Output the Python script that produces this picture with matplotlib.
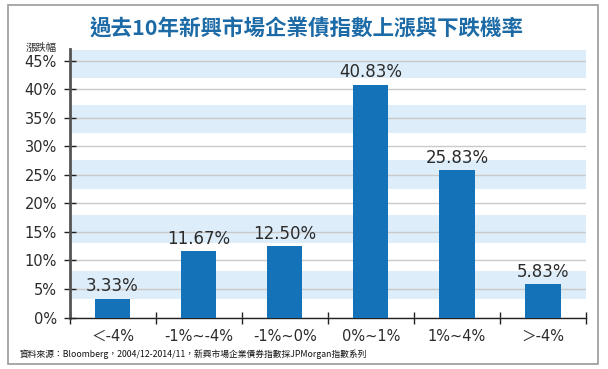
import matplotlib
matplotlib.use("Agg")
import matplotlib.pyplot as plt
from matplotlib.patches import Rectangle

plt.rcParams['font.family'] = ['Noto Sans CJK TC', 'DejaVu Sans']

# data
categories = ['＜-4%', '-1%~-4%', '-1%~0%', '0%~1%', '1%~4%', '＞-4%']
values = [3.33, 11.67, 12.50, 40.83, 25.83, 5.83]
y_ticks = [0, 5, 10, 15, 20, 25, 30, 35, 40, 45]

title = '過去10年新興市場企業債指數上漲與下跌機率'
y_title = '漲跌幅'
source = '資料來源：Bloomberg，2004/12-2014/11，新興市場企業債券指數採JPMorgan指數系列'

bar_color = '#1372b8'
band_color = '#ddedf9'
text_color = '#2b2b2b'
num_font = ['DejaVu Sans', 'Noto Sans CJK TC']

# background stripes (bottom, top) in axis units, as drawn in the original
bands = [(3.2, 8.2), (13.0, 18.0), (22.6, 27.6), (32.4, 37.3), (42.1, 46.9)]

fig = plt.figure(figsize=(6.08, 3.69), dpi=100)
fig.patch.set_facecolor('white')

# outer frame
fig.patches.append(Rectangle((8 / 608, 5 / 369), 590 / 608, 359 / 369,
                             transform=fig.transFigure, fill=False,
                             edgecolor='#9a9a9a', linewidth=1.2))

ax = fig.add_axes([69.5 / 608, 1 - 317.5 / 369, 516.5 / 608, 268.5 / 369])

for lo, hi in bands:
    ax.axhspan(lo, hi, color=band_color, lw=0, zorder=0)

x = list(range(len(categories)))
ax.bar(x, values, width=0.41, color=bar_color, zorder=3)

for xi, v in zip(x, values):
    ax.text(xi, v + 0.6, '%.2f%%' % v, ha='center', va='bottom',
            fontsize=12, color=text_color, family=num_font)

ax.set_xlim(-0.5, len(categories) - 0.5)
ax.set_ylim(0, 47.1)
ax.set_yticks(y_ticks)
ax.set_yticklabels(['%d%%' % t for t in y_ticks], family=num_font,
                   fontsize=10.5, color=text_color)

ax.set_xticks([i + 0.5 for i in range(-1, len(categories))], minor=False)
ax.set_xticklabels([])
ax.set_xticks(x, minor=True)
ax.set_xticklabels(categories, minor=True, fontsize=10.5, color=text_color,
                   family=num_font)
ax.tick_params(axis='x', which='minor', length=0, pad=8)
ax.tick_params(axis='x', which='major', direction='inout', length=8, width=1, color='#222222')
ax.tick_params(axis='y', direction='inout', length=8, width=1, color='#222222', pad=5)

ax.grid(axis='y', color='#c9c9c9', linewidth=1, zorder=1)
ax.set_axisbelow(True)

for s in ['top', 'right']:
    ax.spines[s].set_visible(False)
ax.spines['left'].set_color('#555555')
ax.spines['left'].set_linewidth(2)
ax.spines['bottom'].set_color('#222222')
ax.spines['bottom'].set_linewidth(1)

fig.text(307 / 608, 1 - 29 / 369, title, ha='center', va='center',
         fontsize=15.5, fontweight='bold', color='#1c6aa6')
fig.text(41 / 608, 1 - 48 / 369, y_title, ha='center', va='center',
         fontsize=7.5, color=text_color)
fig.text(20 / 608, 1 - 354 / 369, source, ha='left', va='center',
         fontsize=6.3, color='#111111')

fig.savefig('out.png', dpi=100)
